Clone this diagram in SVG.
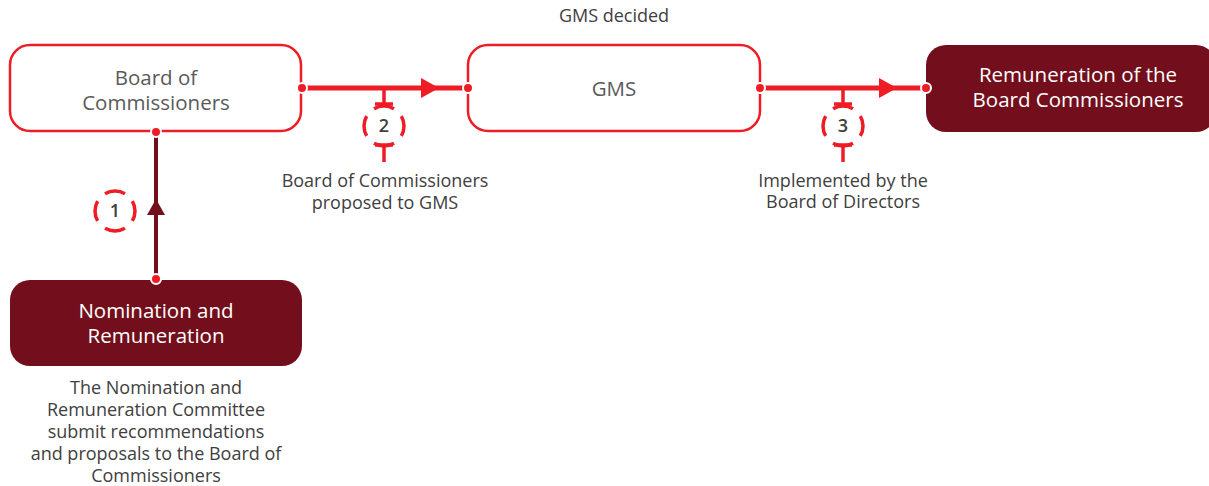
<svg xmlns="http://www.w3.org/2000/svg" width="1209" height="486" viewBox="0 0 1209 486">
  <style>
    .box-line { fill: #ffffff; stroke: #ee1c25; stroke-width: 2.5; }
    .box-dark { fill: #730f1c; stroke: none; }
    .t { font-family: "Open Sans", "Liberation Sans", sans-serif; text-anchor: middle; }
    .node-dark { fill: #5a5a5a; font-size: 20.5px; }
    .node-light { fill: #ffffff; font-size: 20.5px; }
    .lbl { fill: #404040; font-size: 18px; }
    .num { fill: #404040; font-size: 18px; font-weight: 600; }
    .red { stroke: #ee1c25; fill: none; }
    .dot { fill: #ee1c25; stroke: #ffffff; stroke-width: 2; }
    .ring { fill: none; stroke: #ee1c25; stroke-width: 3.5; stroke-dasharray: 2 1; stroke-dashoffset: 1; }
  </style>

  <text class="t lbl" x="614" y="22">GMS decided</text>

  <!-- connectors -->
  <g id="connectors">
    <!-- 1: Nomination -> Board -->
    <line x1="156" y1="279" x2="156" y2="132" stroke="#730f1c" stroke-width="4"/>
    <polygon points="147,215 156,199 165,215" fill="#730f1c"/>
    <circle class="ring" cx="115" cy="211" r="20" pathLength="12"/>
    <text class="t num" x="115" y="217">1</text>

    <!-- 2: Board -> GMS -->
    <line class="red" x1="302" y1="88" x2="468" y2="88" stroke-width="5"/>
    <polygon points="421,78 439,88 421,98" fill="#ee1c25"/>
    <path class="red" stroke-width="3.5" d="M384 88 V104 M375 104 H393 M375 145 H393 M384 145 V162"/>
    <circle class="ring" cx="384" cy="126" r="20" pathLength="12"/>
    <text class="t num" x="384" y="132">2</text>

    <!-- 3: GMS -> Remuneration -->
    <line class="red" x1="760" y1="88" x2="926" y2="88" stroke-width="5"/>
    <polygon points="879,78 897,88 879,98" fill="#ee1c25"/>
    <path class="red" stroke-width="3.5" d="M843 88 V104 M834 104 H852 M834 145 H852 M843 145 V162"/>
    <circle class="ring" cx="843" cy="126" r="20" pathLength="12"/>
    <text class="t num" x="843" y="132">3</text>
  </g>

  <g id="board">
    <rect class="box-line" x="10" y="45" width="291" height="86" rx="20"/>
    <text class="t node-dark" x="156" y="85">Board of</text>
    <text class="t node-dark" x="156" y="110">Commissioners</text>
  </g>

  <g id="gms">
    <rect class="box-line" x="468" y="45" width="292" height="86" rx="20"/>
    <text class="t node-dark" x="614" y="96">GMS</text>
  </g>

  <g id="remuneration">
    <rect class="box-dark" x="926" y="45" width="290" height="87" rx="20"/>
    <text class="t node-light" x="1078" y="82">Remuneration of the</text>
    <text class="t node-light" x="1078" y="107">Board Commissioners</text>
  </g>

  <g id="nomination">
    <rect class="box-dark" x="10" y="280" width="292" height="86" rx="20"/>
    <text class="t node-light" x="156" y="318">Nomination and</text>
    <text class="t node-light" x="156" y="343">Remuneration</text>
  </g>

  <!-- connector end dots -->
  <g id="dots">
    <circle class="dot" cx="302" cy="88" r="5"/>
    <circle class="dot" cx="468" cy="88" r="5"/>
    <circle class="dot" cx="760" cy="88" r="5"/>
    <circle class="dot" cx="926" cy="88" r="5"/>
    <circle class="dot" cx="156" cy="132" r="5"/>
    <circle class="dot" cx="156" cy="279" r="5"/>
  </g>

  <g id="labels">
    <text class="t lbl" x="385" y="187">Board of Commissioners</text>
    <text class="t lbl" x="385" y="209">proposed to GMS</text>
    <text class="t lbl" x="843" y="187">Implemented by the</text>
    <text class="t lbl" x="843" y="208">Board of Directors</text>
    <text class="t lbl" x="156" y="394">The Nomination and</text>
    <text class="t lbl" x="156" y="416">Remuneration Committee</text>
    <text class="t lbl" x="156" y="438">submit recommendations</text>
    <text class="t lbl" x="156" y="460">and proposals to the Board of</text>
    <text class="t lbl" x="156" y="482">Commissioners</text>
  </g>
</svg>
